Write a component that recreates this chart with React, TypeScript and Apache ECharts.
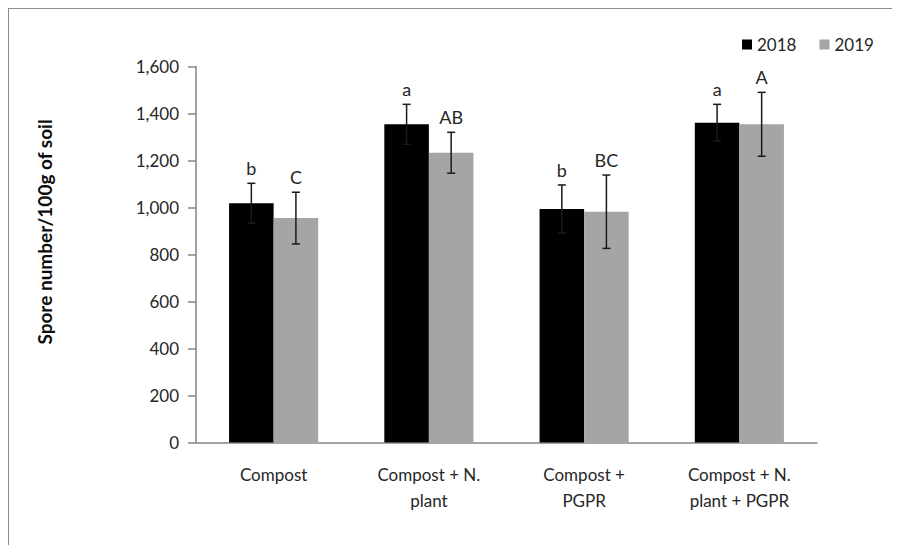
import React, { useEffect, useRef } from "react";
import * as echarts from "echarts";

const categories = ["Compost", "Compost + N.\nplant", "Compost +\nPGPR", "Compost + N.\nplant + PGPR"];
const seriesNames = ["2018", "2019"];
const values2018 = [1018, 1354, 994, 1361];
const values2019 = [955, 1233, 982, 1354];
const err2018 = [85, 85, 102, 78];
const err2019 = [110, 87, 156, 136];
const letters2018 = ["b", "a", "b", "a"];
const letters2019 = ["C", "AB", "BC", "A"];
const yTicks = { min: 0, max: 1600, interval: 200 };

const FONT = "Lato, 'Open Sans', sans-serif";
const BAR_W = 0.287;

export default function App() {
  const ref = useRef<HTMLDivElement>(null);
  useEffect(() => {
    if (!ref.current) return;
    const chart = echarts.init(ref.current, undefined, { renderer: "svg" });

    const errData = (vals: number[], errs: number[], letters: string[]) =>
      vals.map((v, i) => [i, v - errs[i], v + errs[i], letters[i]]);

    const makeErr = (side: number) => (params: any, api: any) => {
      const idx = api.value(0);
      const lo = api.value(1);
      const hi = api.value(2);
      const letter = (side < 0 ? letters2018 : letters2019)[params.dataIndex];
      const bw = api.size([1, 0])[0] * BAR_W;
      const pLo = api.coord([idx, lo]);
      const pHi = api.coord([idx, hi]);
      const x = pLo[0] + (side * bw) / 2;
      const cap = 4;
      const st = { stroke: "#1a1a1a", lineWidth: 1.5 };
      return {
        type: "group",
        children: [
          { type: "line", shape: { x1: x, y1: pLo[1], x2: x, y2: pHi[1] }, style: st },
          { type: "line", shape: { x1: x - cap, y1: pHi[1], x2: x + cap, y2: pHi[1] }, style: st },
          { type: "line", shape: { x1: x - cap, y1: pLo[1], x2: x + cap, y2: pLo[1] }, style: st },
          {
            type: "text",
            x: x,
            y: pHi[1] - 6,
            style: {
              text: letter,
              fill: "#262626",
              font: `18px ${FONT}`,
              textAlign: "center",
              textVerticalAlign: "bottom",
            },
          },
        ],
      };
    };

    chart.setOption({
      animation: false,
      backgroundColor: "#ffffff",
      textStyle: { fontFamily: FONT },
      grid: { left: 187, right: 83, top: 57.5, bottom: 102.5, containLabel: false },
      legend: {
        data: seriesNames,
        left: 728,
        top: 22,
        icon: "rect",
        itemWidth: 10,
        itemHeight: 10,
        itemGap: 23,
        itemTextGap: 9,
        textStyle: { fontSize: 17, color: "#262626", fontFamily: FONT },
      },
      xAxis: {
        type: "category",
        data: categories,
        axisLine: { lineStyle: { color: "#868686", width: 1.5 } },
        axisTick: { show: false },
        axisLabel: { fontSize: 17, color: "#262626", margin: 19, lineHeight: 26, fontFamily: FONT },
      },
      yAxis: {
        type: "value",
        min: yTicks.min,
        max: yTicks.max,
        interval: yTicks.interval,
        splitLine: { show: false },
        axisLine: { show: true, lineStyle: { color: "#868686", width: 1.5 } },
        axisTick: { show: true, length: 8, lineStyle: { color: "#868686", width: 1.5 } },
        axisLabel: {
          fontSize: 17,
          color: "#262626",
          margin: 17,
          fontFamily: FONT,
          formatter: (v: number) => v.toLocaleString("en-US"),
        },
      },
      graphic: [
        {
          type: "text",
          x: 35,
          y: 223,
          rotation: Math.PI / 2,
          style: {
            text: "Spore number/100g of soil",
            font: `bold 19px ${FONT}`,
            fill: "#0d0d0d",
            textAlign: "center",
            textVerticalAlign: "middle",
          },
        },
      ],
      series: [
        {
          name: "2018",
          type: "bar",
          data: values2018,
          barWidth: (BAR_W * 100).toFixed(1) + "%",
          barGap: "0%",
          itemStyle: { color: "#000000" },
        },
        {
          name: "2019",
          type: "bar",
          data: values2019,
          barWidth: (BAR_W * 100).toFixed(1) + "%",
          barGap: "0%",
          itemStyle: { color: "#a5a5a5" },
        },
        {
          type: "custom",
          renderItem: makeErr(-1),
          data: errData(values2018, err2018, letters2018),
          encode: { x: 0, y: [1, 2] },
          z: 10,
          silent: true,
        },
        {
          type: "custom",
          renderItem: makeErr(1),
          data: errData(values2019, err2019, letters2019),
          encode: { x: 0, y: [1, 2] },
          z: 10,
          silent: true,
        },
      ],
    });
    return () => chart.dispose();
  }, []);

  return (
    <div
      style={{
        width: 892,
        height: 537,
        borderLeft: "1px solid #8c8c8c",
        borderTop: "1px solid #8c8c8c",
        boxSizing: "border-box",
        overflow: "hidden",
      }}
    >
      <div ref={ref} style={{ width: 891, height: 536 }} />
    </div>
  );
}
